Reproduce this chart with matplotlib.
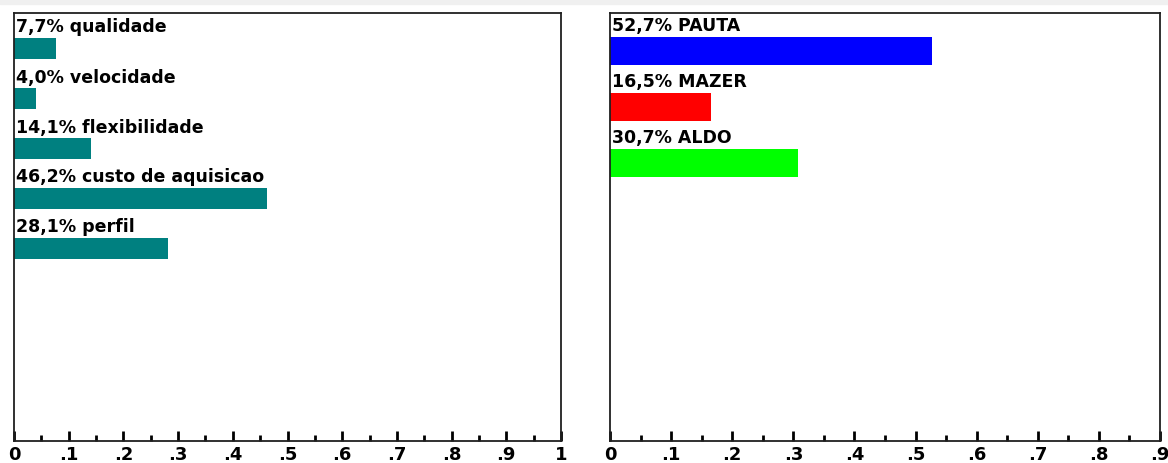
import numpy as np
import matplotlib.pyplot as plt
from matplotlib.patches import Rectangle

# left panel: criterios
crit_names = ['qualidade', 'velocidade', 'flexibilidade', 'custo de aquisicao', 'perfil']
crit_vals = [0.077, 0.040, 0.141, 0.462, 0.281]
crit_labels = ['7,7%', '4,0%', '14,1%', '46,2%', '28,1%']

# right panel: alternativas
alt_names = ['PAUTA', 'MAZER', 'ALDO']
alt_vals = [0.527, 0.165, 0.307]
alt_labels = ['52,7%', '16,5%', '30,7%']
alt_colors = ['#0000ff', '#ff0000', '#00ff00']

fig = plt.figure(figsize=(11.68, 4.64), dpi=100)
fig.patches.append(Rectangle((0, 0.99), 1, 0.01, transform=fig.transFigure,
                             color='#f0f0f0', zorder=0))

ax1 = fig.add_axes([14/1168, 22/464, 547/1168, 428/464])
ax2 = fig.add_axes([610/1168, 22/464, 550/1168, 428/464])


def style(ax, xmax, ticks, ticklabels):
    ax.set_xlim(0, xmax)
    ax.set_xticks(ticks)
    ax.set_xticklabels(ticklabels, fontsize=13, fontweight='bold')
    ax.set_xticks(np.arange(0.05, xmax, 0.1), minor=True)
    ax.tick_params(axis='x', which='major', direction='in', length=7, width=2, pad=3)
    ax.tick_params(axis='x', which='minor', direction='in', length=4, width=2)
    ax.tick_params(axis='x', top=False)
    ax.set_yticks([])
    for s in ax.spines.values():
        s.set_linewidth(1.3)
        s.set_color('#202020')


y1 = np.arange(len(crit_vals))
ax1.barh(y1, crit_vals, height=0.42, color='#008080')
for i in range(len(crit_vals)):
    ax1.text(0.003, y1[i] - 0.25, crit_labels[i] + ' ' + crit_names[i],
             fontsize=12.5, fontweight='bold', va='bottom', ha='left')
ax1.set_ylim(7.86, -0.7)
style(ax1, 1.0, np.arange(0, 1.01, 0.1),
      ['0', '.1', '.2', '.3', '.4', '.5', '.6', '.7', '.8', '.9', '1'])

y2 = np.arange(len(alt_vals))
ax2.barh(y2, alt_vals, height=0.5, color=alt_colors)
for i in range(len(alt_vals)):
    ax2.text(0.003, y2[i] - 0.29, alt_labels[i] + ' ' + alt_names[i],
             fontsize=12.5, fontweight='bold', va='bottom', ha='left')
ax2.set_ylim(6.97, -0.67)
style(ax2, 0.9, np.arange(0, 0.91, 0.1),
      ['0', '.1', '.2', '.3', '.4', '.5', '.6', '.7', '.8', '.9'])

fig.savefig('out.png', dpi=100)
